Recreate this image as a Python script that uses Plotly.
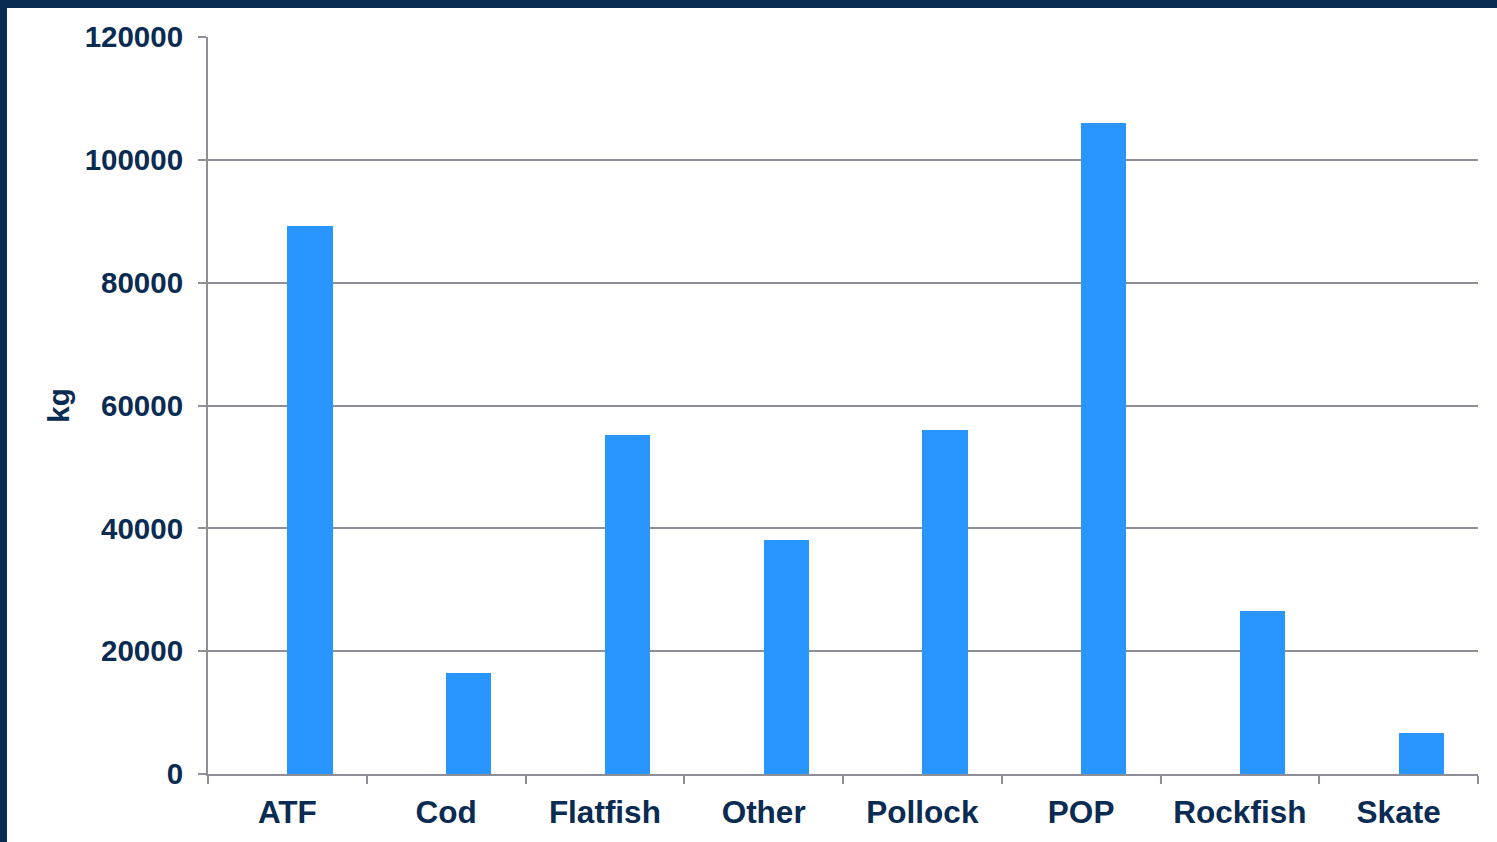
import plotly.graph_objects as go

categories = ["ATF", "Cod", "Flatfish", "Other", "Pollock", "POP", "Rockfish", "Skate"]
values_kg = [89300, 16500, 55200, 38100, 56000, 106000, 26500, 6700]
y_tick_values = [0, 20000, 40000, 60000, 80000, 100000, 120000]
y_tick_labels = ["0", "20000", "40000", "60000", "80000", "100000", "120000"]

NAVY = "#0a2b52"
GREY = "#8e8e99"
BLUE = "#2996ff"

fig = go.Figure()
fig.add_trace(go.Bar(
    x=categories, y=values_kg,
    marker=dict(color=BLUE, line=dict(width=0)),
    width=0.285, offset=0.0,
    showlegend=False,
))

W, H = 1497, 842
ml, mr, mt, mb = 208, 19, 37, 68
pw, ph = W - ml - mr, H - mt - mb

def px_x(p):
    return (p - ml) / pw

def px_y(p):
    return (H - mb - p) / ph

FONT = "Liberation Sans, Arial, sans-serif"

fig.update_layout(
    width=W, height=H,
    margin=dict(l=ml, r=mr, t=mt, b=mb, pad=0),
    paper_bgcolor="white", plot_bgcolor="white",
    font=dict(family=FONT, color=NAVY),
    bargap=0,
    xaxis=dict(
        type="category",
        range=[-0.5, 7.5],
        showgrid=False,
        showline=True, linecolor=GREY, linewidth=2,
        ticks="outside", tickson="boundaries", ticklen=8, tickcolor=GREY, tickwidth=2,
        tickfont=dict(size=31.5, color=NAVY, family=FONT, weight="bold"),
        ticklabelstandoff=9,
    ),
    yaxis=dict(
        range=[0, 120000],
        tickvals=y_tick_values, ticktext=y_tick_labels,
        showgrid=True, gridcolor=GREY, gridwidth=1.5,
        showline=True, linecolor=GREY, linewidth=2,
        ticks="outside", ticklen=8, tickcolor=GREY, tickwidth=2,
        tickfont=dict(size=29.5, color=NAVY, family=FONT, weight="bold"),
        ticklabelstandoff=9,
        zeroline=False,
        title=dict(text="kg", font=dict(size=29.5, color=NAVY, family=FONT, weight="bold"), standoff=6),
    ),
    shapes=[
        dict(type="rect", xref="paper", yref="paper",
             x0=px_x(0), x1=px_x(7), y0=px_y(H), y1=px_y(0),
             fillcolor=NAVY, line=dict(width=0), layer="above"),
        dict(type="rect", xref="paper", yref="paper",
             x0=px_x(0), x1=px_x(W), y0=px_y(8), y1=px_y(0),
             fillcolor=NAVY, line=dict(width=0), layer="above"),
    ],
)

fig.write_html("out.html")
